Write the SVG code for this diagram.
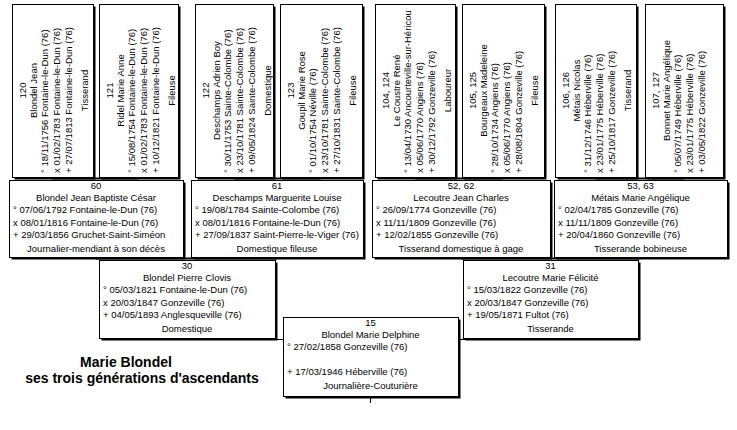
<svg xmlns="http://www.w3.org/2000/svg" width="737" height="430" viewBox="0 0 737 430">
<style>
.sh{fill:#000}
.bx{fill:#fff;stroke:#000;stroke-width:1}
text{font-family:"Liberation Sans",Arial,sans-serif;font-size:9.5px;fill:#000}
.c{text-anchor:middle}
.ln{stroke:#000;fill:none}
.t{font-size:14px;font-weight:bold;text-anchor:middle}
</style>
<rect width="737" height="430" fill="#fff"/>
<g id="connectors">
<line class="ln" stroke-width="2" x1="52.5" y1="178.5" x2="138.5" y2="178.5"/>
<line class="ln" stroke-width="2" x1="234" y1="178.5" x2="321" y2="178.5"/>
<line class="ln" stroke-width="2" x1="415" y1="178.5" x2="503" y2="178.5"/>
<line class="ln" stroke-width="2" x1="595.5" y1="178.5" x2="684" y2="178.5"/>
<line class="ln" stroke-width="2" x1="96" y1="258.5" x2="277" y2="258.5"/>
<line class="ln" stroke-width="2" x1="461" y1="258.5" x2="640.5" y2="258.5"/>
<line class="ln" x1="187" y1="339.5" x2="550" y2="339.5"/>
<line class="ln" x1="370.5" y1="397" x2="370.5" y2="403"/>
</g>
<g id="p120">
<rect class="sh" x="14.5" y="6.5" width="81" height="173"/>
<rect class="bx" x="12.5" y="4.5" width="81" height="173"/>
<text class="c" transform="translate(25.5,90.5) rotate(-90)">120</text>
<text class="c" transform="translate(36.5,90.5) rotate(-90)">Blondel Jean</text>
<text transform="translate(47.5,173) rotate(-90)">° 18/11/1756 Fontaine-le-Dun (76)</text>
<text transform="translate(59.5,173) rotate(-90)">x 01/02/1783 Fontaine-le-Dun (76)</text>
<text transform="translate(72,173) rotate(-90)">+ 27/07/1813 Fontaine-le-Dun (76)</text>
<text class="c" transform="translate(87.5,90.5) rotate(-90)">Tisserand</text>
</g>
<g id="p121">
<rect class="sh" x="101.5" y="6.5" width="79" height="173"/>
<rect class="bx" x="99.5" y="4.5" width="79" height="173"/>
<text class="c" transform="translate(112.5,90.5) rotate(-90)">121</text>
<text class="c" transform="translate(123.5,90.5) rotate(-90)">Ridel Marie Anne</text>
<text transform="translate(134.5,173) rotate(-90)">° 15/08/1754 Fontaine-le-Dun (76)</text>
<text transform="translate(146.5,173) rotate(-90)">x 01/02/1783 Fontaine-le-Dun (76)</text>
<text transform="translate(159,173) rotate(-90)">+ 10/12/1821 Fontaine-le-Dun (76)</text>
<text class="c" transform="translate(174.5,90.5) rotate(-90)">Fileuse</text>
</g>
<g id="p122">
<rect class="sh" x="197.5" y="6.5" width="78" height="173"/>
<rect class="bx" x="195.5" y="4.5" width="78" height="173"/>
<text class="c" transform="translate(208.5,90.5) rotate(-90)">122</text>
<text class="c" transform="translate(219.5,90.5) rotate(-90)">Deschamps Adrien Boy</text>
<text transform="translate(230.5,173) rotate(-90)">° 30/11/1753 Sainte-Colombe (76)</text>
<text transform="translate(242.5,173) rotate(-90)">x 23/10/1781 Sainte-Colombe (76)</text>
<text transform="translate(255,173) rotate(-90)">+ 09/05/1824 Sainte-Colombe (76)</text>
<text class="c" transform="translate(270.5,90.5) rotate(-90)">Domestique</text>
</g>
<g id="p123">
<rect class="sh" x="282.5" y="6.5" width="82" height="173"/>
<rect class="bx" x="280.5" y="4.5" width="82" height="173"/>
<text class="c" transform="translate(293.5,90.5) rotate(-90)">123</text>
<text class="c" transform="translate(304.5,90.5) rotate(-90)">Goupil Marie Rose</text>
<text transform="translate(315.5,173) rotate(-90)">° 01/10/1754 Néville (76)</text>
<text transform="translate(327.5,173) rotate(-90)">x 23/10/1781 Sainte-Colombe (76)</text>
<text transform="translate(340,173) rotate(-90)">+ 27/10/1831 Sainte-Colombe (76)</text>
<text class="c" transform="translate(355.5,90.5) rotate(-90)">Fileuse</text>
</g>
<g id="p104">
<rect class="sh" x="377.5" y="6.5" width="80" height="173"/>
<rect class="bx" x="375.5" y="4.5" width="80" height="173"/>
<text class="c" transform="translate(388.5,90.5) rotate(-90)">104, 124</text>
<text class="c" transform="translate(399.5,90.5) rotate(-90)">Le Coustre René</text>
<text transform="translate(410.5,173) rotate(-90)">° 13/04/1730 Ancourteville-sur-Héricou</text>
<text transform="translate(422.5,173) rotate(-90)">x 05/06/1770 Angiens (76)</text>
<text transform="translate(435,173) rotate(-90)">+ 30/12/1792 Gonzeville (76)</text>
<text class="c" transform="translate(450.5,90.5) rotate(-90)">Laboureur</text>
</g>
<g id="p105">
<rect class="sh" x="464.5" y="6.5" width="82" height="173"/>
<rect class="bx" x="462.5" y="4.5" width="82" height="173"/>
<text class="c" transform="translate(475.5,90.5) rotate(-90)">105, 125</text>
<text class="c" transform="translate(486.5,90.5) rotate(-90)">Bourgeaux Madeleine</text>
<text transform="translate(497.5,173) rotate(-90)">° 28/10/1734 Angiens (76)</text>
<text transform="translate(509.5,173) rotate(-90)">x 05/06/1770 Angiens (76)</text>
<text transform="translate(522,173) rotate(-90)">+ 28/08/1804 Gonzeville (76)</text>
<text class="c" transform="translate(537.5,90.5) rotate(-90)">Fileuse</text>
</g>
<g id="p106">
<rect class="sh" x="557.5" y="6.5" width="81" height="173"/>
<rect class="bx" x="555.5" y="4.5" width="81" height="173"/>
<text class="c" transform="translate(568.5,90.5) rotate(-90)">106, 126</text>
<text class="c" transform="translate(579.5,90.5) rotate(-90)">Métais Nicolas</text>
<text transform="translate(590.5,173) rotate(-90)">° 31/12/1746 Héberville (76)</text>
<text transform="translate(602.5,173) rotate(-90)">x 23/01/1775 Héberville (76)</text>
<text transform="translate(615,173) rotate(-90)">+ 25/10/1817 Gonzeville (76)</text>
<text class="c" transform="translate(630.5,90.5) rotate(-90)">Tisserand</text>
</g>
<g id="p107">
<rect class="sh" x="647.5" y="6.5" width="78" height="173"/>
<rect class="bx" x="645.5" y="4.5" width="78" height="173"/>
<text class="c" transform="translate(658.5,90.5) rotate(-90)">107, 127</text>
<text class="c" transform="translate(669.5,90.5) rotate(-90)">Bonnet Marie Angélique</text>
<text transform="translate(680.5,173) rotate(-90)">° 05/07/1749 Héberville (76)</text>
<text transform="translate(692.5,173) rotate(-90)">x 23/01/1775 Héberville (76)</text>
<text transform="translate(705,173) rotate(-90)">+ 03/05/1822 Gonzeville (76)</text>
</g>
<g id="p60">
<rect class="sh" x="11.5" y="182.5" width="174" height="77"/>
<rect class="bx" x="9.5" y="180.5" width="174" height="77"/>
<text class="c" x="96" y="188.5">60</text>
<text class="c" x="96" y="200.7">Blondel Jean Baptiste César</text>
<text x="13" y="213">° 07/06/1792 Fontaine-le-Dun (76)</text>
<text x="13" y="225.5">x 08/01/1816 Fontaine-le-Dun (76)</text>
<text x="13" y="238">+ 29/03/1856 Gruchet-Saint-Siméon</text>
<text class="c" x="96" y="252">Journalier-mendiant à son décès</text>
</g>
<g id="p61">
<rect class="sh" x="193.5" y="182.5" width="172" height="77"/>
<rect class="bx" x="191.5" y="180.5" width="172" height="77"/>
<text class="c" x="277" y="188.5">61</text>
<text class="c" x="277" y="200.7">Deschamps Marguerite Louise</text>
<text x="195" y="213">° 19/08/1784 Sainte-Colombe (76)</text>
<text x="195" y="225.5">x 08/01/1816 Fontaine-le-Dun (76)</text>
<text x="195" y="238">+ 27/09/1837 Saint-Pierre-le-Viger (76)</text>
<text class="c" x="277" y="252">Domestique fileuse</text>
</g>
<g id="p52">
<rect class="sh" x="374.5" y="182.5" width="178" height="77"/>
<rect class="bx" x="372.5" y="180.5" width="178" height="77"/>
<text class="c" x="461" y="188.5">52, 62</text>
<text class="c" x="461" y="200.7">Lecoutre Jean Charles</text>
<text x="376" y="213">° 26/09/1774 Gonzeville (76)</text>
<text x="376" y="225.5">x 11/11/1809 Gonzeville (76)</text>
<text x="376" y="238">+ 12/02/1855 Gonzeville (76)</text>
<text class="c" x="461" y="252">Tisserand domestique à gage</text>
</g>
<g id="p53">
<rect class="sh" x="556.5" y="182.5" width="173" height="77"/>
<rect class="bx" x="554.5" y="180.5" width="173" height="77"/>
<text class="c" x="640.5" y="188.5">53, 63</text>
<text class="c" x="640.5" y="200.7">Métais Marie Angélique</text>
<text x="558" y="213">° 02/04/1785 Gonzeville (76)</text>
<text x="558" y="225.5">x 11/11/1809 Gonzeville (76)</text>
<text x="558" y="238">+ 20/04/1860 Gonzeville (76)</text>
<text class="c" x="640.5" y="252">Tisserande bobineuse</text>
</g>
<g id="p30">
<rect class="sh" x="101.5" y="262.5" width="176" height="78"/>
<rect class="bx" x="99.5" y="260.5" width="176" height="78"/>
<text class="c" x="187" y="268.5">30</text>
<text class="c" x="187" y="280.7">Blondel Pierre Clovis</text>
<text x="103" y="293">° 05/03/1821 Fontaine-le-Dun (76)</text>
<text x="103" y="305.5">x 20/03/1847 Gonzeville (76)</text>
<text x="103" y="318">+ 04/05/1893 Anglesqueville (76)</text>
<text class="c" x="187" y="332">Domestique</text>
</g>
<g id="p31">
<rect class="sh" x="465.5" y="262.5" width="175" height="78"/>
<rect class="bx" x="463.5" y="260.5" width="175" height="78"/>
<text class="c" x="550.5" y="268.5">31</text>
<text class="c" x="550.5" y="280.7">Lecoutre Marie Félicité</text>
<text x="467" y="293">° 15/03/1822 Gonzeville (76)</text>
<text x="467" y="305.5">x 20/03/1847 Gonzeville (76)</text>
<text x="467" y="318">+ 19/05/1871 Fultot (76)</text>
<text class="c" x="550.5" y="332">Tisserande</text>
</g>
<g id="p15">
<rect class="sh" x="285.5" y="319.5" width="175" height="79"/>
<rect class="bx" x="283.5" y="317.5" width="175" height="79"/>
<text class="c" x="370.5" y="325.5">15</text>
<text class="c" x="370.5" y="337.7">Blondel Marie Delphine</text>
<text x="287" y="350">° 27/02/1858 Gonzeville (76)</text>
<text x="287" y="375">+ 17/03/1946 Héberville (76)</text>
<text class="c" x="370.5" y="389">Journalière-Couturière</text>
</g>
<g id="title">
<text class="t" x="126" y="367">Marie Blondel</text>
<text class="t" x="142" y="383">ses trois générations d'ascendants</text>
</g>
</svg>
